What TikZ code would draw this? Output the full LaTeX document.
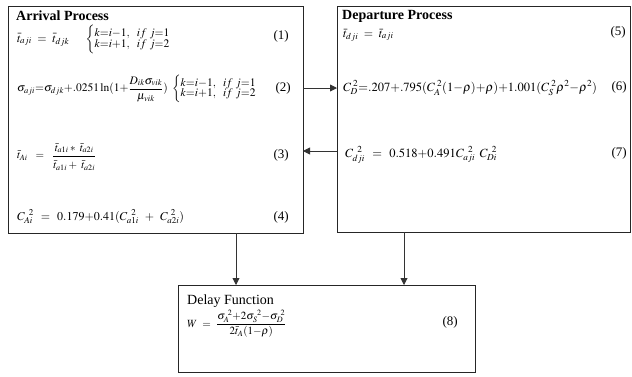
\documentclass[tikz,border=0pt]{standalone}
\usepackage{amsmath}
\usepackage{mathptmx}
\usepackage{fontspec}
\setmainfont{Liberation Serif}
\usetikzlibrary{arrows.meta}
\tikzset{
  panel/.style={draw=black!85, line width=1.1pt, anchor=north west, inner sep=0pt},
  flow/.style={draw=black!80, line width=0.9pt, -{Triangle[length=7pt,width=7pt]}},
  ttl/.style={anchor=west, inner sep=0pt, font=\fontsize{14}{16}\selectfont\bfseries},
  eq/.style={anchor=west, inner sep=0pt, font=\fontsize{12}{14}\selectfont},
  num/.style={anchor=east, inner sep=0pt, font=\fontsize{13}{15}\selectfont}
}
\newcommand{\kline}[1]{\text{\fontsize{11.5}{12}\selectfont$#1$}}
\newcommand{\kcond}{\left\{\begin{array}{@{}l@{}}\kline{k{=}i{-}1,\ \ if\ j{=}1}\\[-2.5pt]\kline{k{=}i{+}1,\ \ if\ j{=}2}\end{array}\right.}
\begin{document}
\begin{tikzpicture}[x=1pt,y=-1pt]
\useasboundingbox (0,0) rectangle (632,376);
% boxes
\node[panel, minimum width=295pt, minimum height=227pt] (arr) at (8,6) {};
\node[panel, minimum width=293pt, minimum height=226pt] (dep) at (337,6) {};
\node[panel, minimum width=297pt, minimum height=87pt] (del) at (178,285) {};
% connectors
\coordinate (a1) at (303,88);
\coordinate (b1) at (337,88);
\coordinate (a2) at (337,151);
\coordinate (b2) at (303,151);
\draw[flow] (a1) -- (b1);
\draw[flow] (a2) -- (b2);
\coordinate (c1) at (236,233);
\coordinate (d1) at (236,285);
\coordinate (c2) at (404,232);
\coordinate (d2) at (404,285);
\draw[flow] (c1) -- (d1);
\draw[flow] (c2) -- (d2);
% Arrival
\node[ttl] (t1) at (16,16) {Arrival Process};
\node[eq] (e1) at (17,39) {$\bar t_{aji}\ =\ \bar t_{djk}\quad\ \kcond$};
\node[num] (n1) at (289,36) {(1)};
\node[eq, font=\fontsize{11.5}{13}\selectfont] (e2) at (17,89) {$\sigma_{aji}{=}\sigma_{djk}{+}.0251\ln(1{+}\dfrac{D_{ik}\sigma_{vik}}{\mu_{vik}})\ \kcond$};
\node[num] (n2) at (291,88) {(2)};
\node[eq, font=\fontsize{11}{13}\selectfont] (e3) at (17,157) {$\bar t_{Ai}\ \ =\ \ \dfrac{\bar t_{a1i}*\ \bar t_{a2i}}{\rule{0pt}{11pt}\bar t_{a1i}+\ \bar t_{a2i}}$};
\node[num] (n3) at (289,155) {(3)};
\node[eq] (e4) at (17,217) {$C_{Ai}^{\ \,2}\ \,=\ \,0.179{+}0.41(C_{a1i}^{\ \,2}\ \,+\ \,C_{a2i}^{\ 2})$};
\node[num] (n4) at (289,217) {(4)};
% Departure
\node[ttl] (t2) at (342,16) {Departure Process};
\node[eq] (e5) at (343,35) {$\bar t_{dji}\ =\ \bar t_{aji}$};
\node[num] (n5) at (626,32) {(5)};
\node[eq, font=\fontsize{12.5}{15}\selectfont] (e6) at (343,88) {$C_D^{\;2}{=}.207{+}.795(C_A^{\;2}(1{-}\rho){+}\rho){+}1.001(C_S^{\;2}\rho^2{-}\rho^2)$};
\node[num] (n6) at (627,87) {(6)};
\node[eq, font=\fontsize{12.5}{15}\selectfont] (e7) at (345,155) {$C_{dji}^{\ \,2}\ \,=\ \,0.518{+}0.491C_{aji}^{\ \,2}\ \,C_{Di}^{\ \,2}$};
\node[num] (n7) at (627,153) {(7)};
% Delay
\node[ttl, font=\fontsize{14}{16}\selectfont] (t3) at (187,301) {Delay Function};
\node[eq, font=\fontsize{11}{13}\selectfont] (e8) at (187,324) {$W\ =\ \dfrac{\sigma_A^{\ 2}{+}2\sigma_S^{\ 2}{-}\sigma_D^{\ 2}}{2\bar t_A(1{-}\rho)}$};
\node[num] (n8) at (458,322) {(8)};
\end{tikzpicture}
\end{document}
